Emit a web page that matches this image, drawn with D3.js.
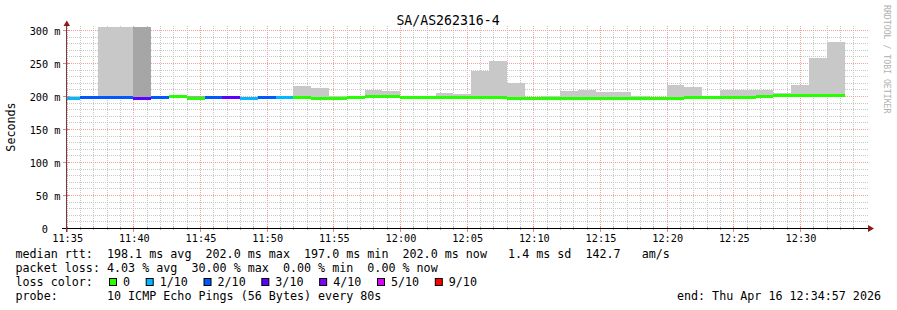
<!DOCTYPE html>
<html><head><meta charset="utf-8">
<script src="https://cdn.jsdelivr.net/npm/d3@7"></script>
<style>
html,body{margin:0;padding:0;background:#fff;}
svg{display:block;}
text{font-family:"DejaVu Sans Mono",monospace;}
</style>
</head><body>
<svg id="c" width="897" height="310"></svg>
<script>
// ---------------- data ----------------
const chartTitle = "SA/AS262316-4";
const yAxisLabel = "Seconds";
const rangeStart = "2026-04-16 11:34:57";
const rangeEnd = "2026-04-16 12:34:57";
const stepSeconds = 80;
const stepStarts = [
  "11:34:38","11:35:58","11:37:18","11:38:38","11:39:58","11:41:18","11:42:38","11:43:58",
  "11:45:18","11:46:38","11:47:58","11:49:18","11:50:38","11:51:58","11:53:18","11:54:38",
  "11:55:58","11:57:18","11:58:38","11:59:58","12:01:18","12:02:38","12:03:58","12:05:18",
  "12:06:38","12:07:58","12:09:18","12:10:38","12:11:58","12:13:18","12:14:38","12:15:58",
  "12:17:18","12:18:38","12:19:58","12:21:18","12:22:38","12:23:58","12:25:18","12:26:38",
  "12:27:58","12:29:18","12:30:38","12:31:58"
];
// median rtt (ms)
const medianMs = [
  197.5,198,198,198,197.5,198,199.5,197.5,
  198,198,197.5,198,198,198,197,197,
  198,199.5,199.5,198,198,198,198,198,
  198,197,197,197,197,197,197,197,
  197,197,197,198,198,198.5,198,199.5,
  201.5,202,202,202
];
// lost pings out of 10
const lossCount = [
  1,2,2,2,3,2,0,0,
  2,3,1,2,1,0,0,0,
  0,0,0,0,0,0,0,0,
  0,0,0,0,0,0,0,0,
  0,0,0,0,0,0,0,0,
  0,0,0,0
];
// smoke: fastest ping, slowest ping, inner (denser) band top (ms)
const smokeMin = [
  196,197,197,197,197,197,197,196.5,
  197,197,196.5,197,197,197,196,196,
  197,198,198,197,197,197,197,197,
  197,196,196,196,196,196,196,196,
  196,196,196,197,197,197,197,198,
  200,201,201,201
];
const smokeMax = [
  201.5,199,310,310,310,199,199.5,201,
  200.5,200,199.5,199,200,215.6,213.6,200,
  200.3,209.6,208,198.5,198.5,205,203.5,239,
  254.5,220,197.5,200.5,208,210.6,206.6,206.6,
  201.5,197.5,218,215,200.5,210.6,210.6,210.6,
  206,218,258,283
];
const smokeCore = [
  199.5,198.5,200.5,200.5,310,198.5,199.5,200.5,
  200,199.5,199,198.5,199.5,199.5,199,199,
  199.5,201,201,198.5,198.5,199.5,199.5,200,
  201,199,197.5,199.5,199.5,199.5,199.5,199.5,
  199,197.5,199,199.5,199.5,200,200,200.5,
  202.5,203.5,203.5,203.5
];
const yTickValues = [0,50,100,150,200,250,300];
const lossLegendLabels = ["0","1/10","2/10","3/10","4/10","5/10","9/10"];
const lossLegendColors = ["#26ff00","#00b8ff","#0059ff","#5e00ff","#7e00ff","#dd00ff","#ff0000"];
const legendRows = [
  "median rtt:  198.1 ms avg  202.0 ms max  197.0 ms min  202.0 ms now   1.4 ms sd  142.7   am/s",
  "packet loss: 4.03 % avg  30.00 % max  0.00 % min  0.00 % now",
  "loss color:",
  "probe:       10 ICMP Echo Pings (56 Bytes) every 80s"
];
const endLabel = "end: Thu Apr 16 12:34:57 2026";
const watermark = "RRDTOOL / TOBI OETIKER";

// ---------------- drawing ----------------
const parse = d3.timeParse("%Y-%m-%d %H:%M:%S");
const day = "2026-04-16 ";
const t0 = parse(rangeStart), t1 = parse(rangeEnd);
const steps = stepStarts.map(s => parse(day + s));

const L = 66.5, R = 866.5, B = 228.5, T = 28.5;
const x = d3.scaleTime().domain([t0, t1]).range([L, R]);
const y = d3.scaleLinear().domain([0, 303.03]).range([B, T]);
const lossColor = n => lossLegendColors[Math.min(n, 6)];

const svg = d3.select("#c");
svg.append("rect").attr("width", 897).attr("height", 310).attr("fill", "#fff");

const px = v => Math.floor(v) + 0.5;

// grid
const grid = svg.append("g").attr("stroke-dasharray", "1,1").attr("stroke-width", 1);
const minutes = d3.timeMinute.range(d3.timeMinute.ceil(t0), t1);
minutes.forEach(m => {
  const major = m.getMinutes() % 5 === 0;
  grid.append("line")
    .attr("x1", px(x(m))).attr("x2", px(x(m)))
    .attr("y1", 26).attr("y2", 228)
    .attr("stroke", major ? "#f2a0a0" : "#c8c8c8");
});
d3.range(10, 301, 10).forEach(v => {
  const major = v % 50 === 0;
  grid.append("line")
    .attr("x1", 67).attr("x2", 868)
    .attr("y1", px(y(v))).attr("y2", px(y(v)))
    .attr("stroke", major ? "#f2a0a0" : "#c8c8c8");
});

// plot clip
svg.append("clipPath").attr("id", "plot")
  .append("rect").attr("x", 67).attr("y", 27).attr("width", R - 67).attr("height", B - 27);
const plot = svg.append("g").attr("clip-path", "url(#plot)").attr("shape-rendering", "crispEdges");

const x0 = (d, i) => Math.round(x(steps[i]));
const xw = (d, i) => Math.round(x(d3.timeSecond.offset(steps[i], stepSeconds))) - Math.round(x(steps[i]));

plot.selectAll("rect.smoke").data(smokeMax).join("rect").attr("class", "smoke")
  .attr("x", x0).attr("width", xw)
  .attr("y", d => y(d)).attr("height", (d, i) => y(smokeMin[i]) - y(d))
  .attr("fill", "#c8c8c8");
plot.selectAll("rect.core").data(smokeCore).join("rect").attr("class", "core")
  .attr("x", x0).attr("width", xw)
  .attr("y", d => y(d)).attr("height", (d, i) => Math.max(0, y(smokeMin[i]) - y(d)))
  .attr("fill", "#a6a6a6");
plot.selectAll("rect.med").data(medianMs).join("rect").attr("class", "med")
  .attr("x", x0).attr("width", xw)
  .attr("y", d => Math.round(y(d) - 1.5)).attr("height", 3)
  .attr("fill", (d, i) => lossColor(lossCount[i]));

// axes
const xAxis = d3.axisBottom(x)
  .tickValues(d3.timeMinute.every(5).range(d3.timeMinute.ceil(t0), t1))
  .tickFormat(d3.timeFormat("%H:%M"))
  .tickSize(0);
const gx = svg.append("g").attr("transform", `translate(0,${B})`).call(xAxis);
gx.select(".domain").remove();
gx.selectAll("text").attr("y", 13).attr("dy", null)
  .attr("font-family", "DejaVu Sans Mono").attr("font-size", "10.24px").attr("fill", "#000");

const yAxis = d3.axisLeft(y).tickValues(yTickValues)
  .tickFormat(v => v === 0 ? "0" : v + " m").tickSize(0);
const gy = svg.append("g").attr("transform", `translate(${L},0)`).call(yAxis);
gy.select(".domain").remove();
gy.selectAll("text").attr("x", d => d === 0 ? -18.5 : -6).attr("dy", "3.7px")
  .attr("font-family", "DejaVu Sans Mono").attr("font-size", "10.24px").attr("fill", "#000");

// tick marks
minutes.forEach(m => {
  const major = m.getMinutes() % 5 === 0;
  svg.append("line").attr("x1", px(x(m))).attr("x2", px(x(m)))
    .attr("y1", major ? 226 : 227).attr("y2", major ? 232 : 230)
    .attr("stroke", major ? "#f08080" : "#b0b0b0");
});
yTickValues.forEach(v => {
  svg.append("line").attr("x1", 63).attr("x2", 70)
    .attr("y1", px(y(v))).attr("y2", px(y(v))).attr("stroke", "#f08080");
});

// axis lines and arrows
svg.append("line").attr("x1", 62).attr("x2", 869).attr("y1", B).attr("y2", B).attr("stroke", "#000");
svg.append("line").attr("x1", L).attr("x2", L).attr("y1", 232).attr("y2", 24).attr("stroke", "#6a4040");
svg.append("path").attr("d", "M63.5,26 L70,26 L66.8,20.5 Z").attr("fill", "#8b1a1a");
svg.append("path").attr("d", "M868,225 L868,232 L874,228.5 Z").attr("fill", "#8b1a1a");

// title
svg.append("text").attr("x", 448).attr("y", 25).attr("text-anchor", "middle")
  .attr("font-size", "13.2px").attr("fill", "#000").text(chartTitle);

// y label
svg.append("text").attr("transform", "translate(15,127) rotate(-90)")
  .attr("text-anchor", "middle").attr("font-size", "11.7px").attr("fill", "#000").text(yAxisLabel);

// watermark
svg.append("text").attr("transform", "translate(884,5) rotate(90)")
  .attr("font-size", "8.2px").attr("fill", "#b0b0b0").text(watermark);

// legend
const rowY = [258, 272, 286, 299.5];
legendRows.forEach((s, i) => {
  svg.append("text").attr("x", 15.5).attr("y", rowY[i]).attr("font-size", "11.7px")
    .attr("fill", "#000").style("white-space", "pre").attr("xml:space", "preserve").text(s);
});
let lx = 109;
lossLegendLabels.forEach((lab, i) => {
  svg.append("rect").attr("x", lx + 0.5).attr("y", 278.5).attr("width", 7).attr("height", 7)
    .attr("fill", lossLegendColors[i]).attr("stroke", "#000").attr("stroke-width", 1);
  svg.append("text").attr("x", lx + 14).attr("y", rowY[2]).attr("font-size", "11.7px")
    .attr("fill", "#000").text(lab);
  lx += (lab.length + 4) * 7.04 + 1.5;
});
svg.append("text").attr("x", 881).attr("y", rowY[3]).attr("text-anchor", "end")
  .attr("font-size", "11.7px").attr("fill", "#000").style("white-space", "pre").text(endLabel);
</script>
</body></html>
